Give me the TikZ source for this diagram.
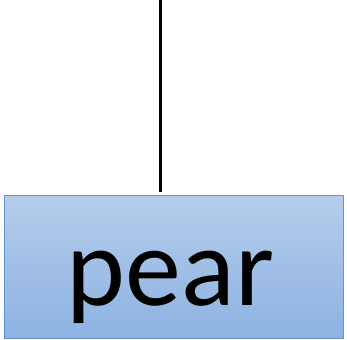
\documentclass[tikz,border=0pt]{standalone}
\usepackage{fontspec}
\setmainfont{Carlito}
\usetikzlibrary{positioning}
\definecolor{boxtop}{RGB}{181, 205, 235}
\definecolor{boxbot}{RGB}{141, 178, 226}
\definecolor{boxline}{RGB}{98, 148, 214}

\begin{document}
\begin{tikzpicture}[x=1pt,y=1pt,
  fruit/.style={draw=boxline, line width=1pt, top color=boxtop, bottom color=boxbot,
    minimum width=339pt, minimum height=143pt, inner sep=0pt},
  word/.style={anchor=base, inner sep=0pt, font=\fontsize{112}{112}\selectfont},
  stem/.style={line width=3.8pt, shorten >=3pt}]
\useasboundingbox (0,0) rectangle (347,339);

%%%%%%%%%% box
\node[fruit] (pear) at (173.5,72) {};
\node[word] (name) at (170.5,33) {pear};
\coordinate (top) at (160.5,339);

%%%%%%%%%% line
\draw[stem] (top) -- (top |- pear.north);
\end{tikzpicture}
\end{document}
